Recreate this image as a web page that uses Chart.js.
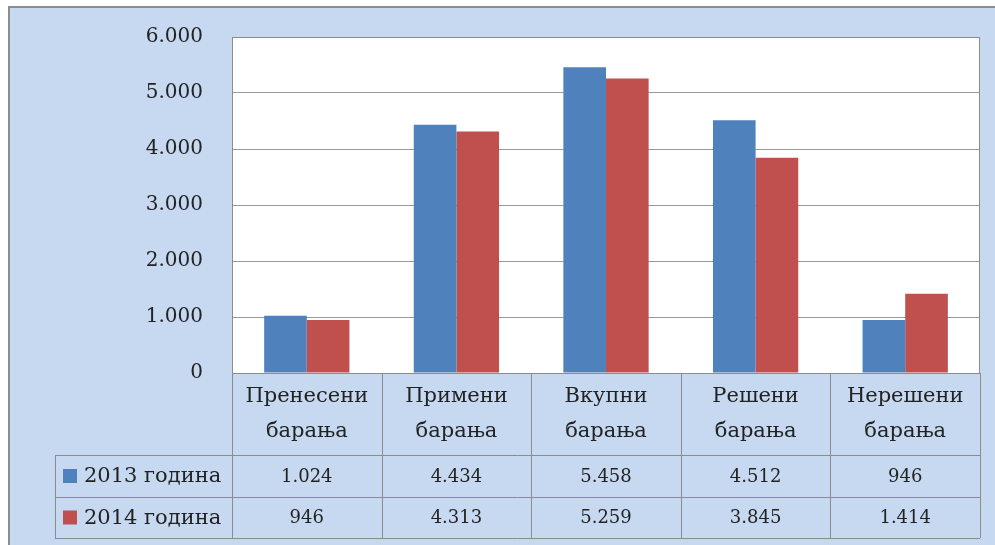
<!DOCTYPE html>
<html>
<head>
<meta charset="utf-8">
<script src="https://cdn.jsdelivr.net/npm/chart.js@4"></script>
<style>
    body { margin: 0; background: #fff; }
    #wrap { width: 995px; height: 545px; position: relative; }
</style>
</head>
<body>
<div id="wrap"><canvas id="chartBar"></canvas></div>
<script>

const categories = [
    ['Пренесени', 'барања'],
    ['Примени', 'барања'],
    ['Вкупни', 'барања'],
    ['Решени', 'барања'],
    ['Нерешени', 'барања'],
];
const seriesNames = ['2013 година', '2014 година'];
const values2013 = [1024, 4434, 5458, 4512, 946];
const values2014 = [946, 4313, 5259, 3845, 1414];
const yTicks = [0, 1000, 2000, 3000, 4000, 5000, 6000];

const colors = ['#4f81bd', '#c0504d'];
const panelBlue = '#c6d9f0';
const lineGray = '#8c8c8c';
const textColor = '#222';
const font = '"DejaVu Serif", serif';

// 1024 -> "1.024"
const fmt = v => v.toString().replace(/\B(?=(\d{3})+(?!\d))/g, '.');

// background panel + white plot area, data table under the plot
const tablePlugin = {
    id: 'dataTable',
    beforeDraw(chart) {
        const { ctx, chartArea: a } = chart;
        ctx.save();
        ctx.fillStyle = '#fff';
        ctx.fillRect(0, 0, chart.width, chart.height);
        ctx.fillStyle = panelBlue;
        ctx.fillRect(10, 8, chart.width - 10, chart.height - 8);
        ctx.strokeStyle = lineGray;
        ctx.lineWidth = 2;
        ctx.beginPath();
        ctx.moveTo(9, chart.height);
        ctx.lineTo(9, 7);
        ctx.lineTo(chart.width, 7);
        ctx.stroke();
        ctx.fillStyle = '#fff';
        ctx.fillRect(a.left, a.top, a.right - a.left, a.bottom - a.top);
        ctx.restore();
    },
    afterDraw(chart) {
        const { ctx, chartArea: a } = chart;
        const x = chart.scales.x;
        const n = categories.length;
        const cw = (a.right - a.left) / n;
        const headTop = a.bottom, headBot = a.bottom + 82;
        const rows = [[headBot, headBot + 42], [headBot + 42, headBot + 83]];
        const tableLeft = 55;
        const rowValues = [values2013, values2014];

        ctx.save();
        ctx.strokeStyle = lineGray;
        ctx.lineWidth = 1;

        // plot border
        ctx.strokeRect(a.left + 0.5, a.top + 0.5, a.right - a.left - 1, a.bottom - a.top);

        // grid of the table
        ctx.beginPath();
        for (let i = 0; i <= n; i++) {
            const px = Math.round(a.left + i * cw) + 0.5;
            ctx.moveTo(px, headTop);
            ctx.lineTo(px, rows[1][1]);
        }
        ctx.moveTo(tableLeft + 0.5, rows[0][0]);
        ctx.lineTo(tableLeft + 0.5, rows[1][1]);
        [rows[0][0], rows[1][0], rows[1][1]].forEach(y => {
            ctx.moveTo(tableLeft, Math.round(y) + 0.5);
            ctx.lineTo(a.right, Math.round(y) + 0.5);
        });
        ctx.moveTo(a.left, headTop + 0.5);
        ctx.lineTo(a.right, headTop + 0.5);
        ctx.stroke();

        ctx.fillStyle = textColor;
        ctx.textAlign = 'center';
        ctx.textBaseline = 'middle';

        // category headers
        ctx.font = '21px ' + font;
        categories.forEach((lines, i) => {
            const cx = x.getPixelForValue(i);
            const mid = (headTop + headBot) / 2;
            ctx.fillText(lines[0], cx, mid - 17);
            ctx.fillText(lines[1], cx, mid + 18);
        });

        // series rows
        rows.forEach((r, s) => {
            const cy = (r[0] + r[1]) / 2;
            ctx.fillStyle = colors[s];
            ctx.fillRect(63, cy - 7, 14, 14);
            ctx.fillStyle = textColor;
            ctx.textAlign = 'left';
            ctx.font = '21px ' + font;
            ctx.fillText(seriesNames[s], 84, cy + 1);
            ctx.textAlign = 'center';
            ctx.font = '18px ' + font;
            rowValues[s].forEach((v, i) => {
                ctx.fillText(fmt(v), x.getPixelForValue(i), cy + 1);
            });
        });
        ctx.restore();
    }
};

const data = {
    labels: categories.map(c => c.join(' ')),
    datasets: [{
        label: seriesNames[0],
        backgroundColor: colors[0],
        data: values2013,
    }, {
        label: seriesNames[1],
        backgroundColor: colors[1],
        data: values2014,
    }]
};

const configBarChart = {
    type: 'bar',
    data,
    options: {
        responsive: true,
        maintainAspectRatio: false,
        animation: false,
        layout: { padding: { left: 0, top: 37, right: 15, bottom: 172 } },
        plugins: {
            legend: { display: false },
            tooltip: { enabled: false }
        },
        datasets: {
            bar: { barPercentage: 1, categoryPercentage: 0.57 }
        },
        scales: {
            x: { display: false },
            y: {
                min: yTicks[0],
                max: yTicks[yTicks.length - 1],
                afterBuildTicks: scale => {
                    scale.ticks = yTicks.map(v => ({ value: v }));
                },
                afterFit: scale => {
                    scale.width = 232;
                    // let layout.padding decide the plot top/bottom
                    scale.paddingTop = 0;
                    scale.paddingBottom = 0;
                },
                border: { display: false },
                grid: { color: '#9a9a9a', drawTicks: false },
                ticks: {
                    padding: 29,
                    color: textColor,
                    font: { family: font, size: 20 },
                    callback: v => fmt(v)
                }
            }
        }
    },
    plugins: [tablePlugin]
};

var chartBar = new Chart(
    document.getElementById('chartBar'),
    configBarChart
);

</script>
</body>
</html>
